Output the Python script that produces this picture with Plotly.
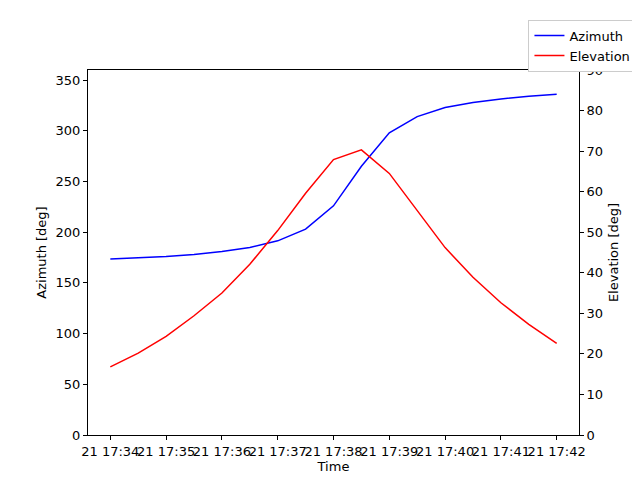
import plotly.graph_objects as go
import pandas as pd

times = pd.date_range("2024-01-21 17:34:00", periods=17, freq="30s")
azimuth = [173.5, 174.5, 176, 178, 181, 185, 191.5, 203, 226, 265, 298, 314, 323, 328, 331.5, 334, 336]
elevation = [16.8, 20.2, 24.3, 29.4, 35.0, 42.1, 50.4, 59.6, 67.9, 70.3, 64.5, 55.2, 46.2, 38.9, 32.6, 27.3, 22.6]

fig = go.Figure()
fig.add_trace(go.Scatter(x=times, y=azimuth, mode="lines", name="Azimuth",
                         line=dict(color="blue", width=1.5)))
fig.add_trace(go.Scatter(x=times, y=elevation, mode="lines", name="Elevation",
                         line=dict(color="red", width=1.5), yaxis="y2"))

ax = dict(showgrid=False, zeroline=False, showline=True, linecolor="black",
          ticks="outside", tickcolor="black", ticklen=4, tickangle=0,
          tickfont=dict(size=13, color="black"))
tf = dict(size=13, color="black")
fig.update_layout(
    width=640, height=480,
    margin=dict(l=80, r=64, t=58, b=53),
    plot_bgcolor="white", paper_bgcolor="white",
    font=dict(family="DejaVu Sans", size=13, color="black"),
    xaxis=dict(**ax, mirror=True, type="date", tickformat="%d %H:%M",
               dtick=60000, range=["2024-01-21 17:33:36", "2024-01-21 17:42:24"],
               title=dict(text="Time", standoff=4, font=tf)),
    yaxis=dict(**ax, range=[0, 360], dtick=50, title=dict(text="Azimuth [deg]", standoff=6, font=tf)),
    yaxis2=dict(**ax, overlaying="y", side="right", range=[0, 90], dtick=10,
                title=dict(text="Elevation [deg]", standoff=6, font=tf)),
    legend=dict(x=1.117, y=1.138, xanchor="right", yanchor="top",
                bordercolor="#cccccc", borderwidth=1,
                bgcolor="white", font=dict(size=13)),
    showlegend=True,
)
fig.write_html("out.html")
